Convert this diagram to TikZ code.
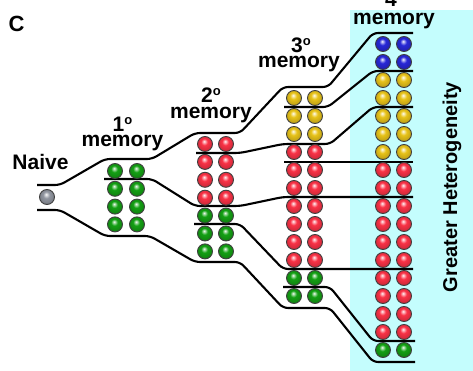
\documentclass[tikz,border=0pt]{standalone}
\usepackage{fontspec}
\setmainfont{Liberation Sans}
\definecolor{bgcyan}{RGB}{196,253,253}
\definecolor{bgreen}{RGB}{20,160,20}
\definecolor{bred}{RGB}{250,50,70}
\definecolor{byellow}{RGB}{232,195,25}
\definecolor{bblue}{RGB}{40,40,215}
\definecolor{bgray}{RGB}{145,150,160}
\makeatletter
\pgfdeclareradialshading[tikz@ball]{cellball}{\pgfpoint{-3bp}{9bp}}{%
  color(0bp)=(tikz@ball!5!white); color(4bp)=(tikz@ball!40!white);
  color(11bp)=(tikz@ball); color(24bp)=(tikz@ball!85!black);
  color(34bp)=(tikz@ball!65!black); color(50bp)=(black)}
\makeatother
\newcommand{\ordo}{\raisebox{7.5pt}{\fontsize{13}{13}\selectfont o}}
\begin{document}
\begin{tikzpicture}[x=1pt,y=-1pt,
  lbl/.style={font=\bfseries\fontsize{21}{21}\selectfont, anchor=base, inner sep=0pt},
  ball/.style={circle, draw=black!75, line width=0.9pt, minimum size=15pt, inner sep=0pt, ball color=#1, shading=cellball},
  sepline/.style={line width=2.1pt, rounded corners=5pt}]
\useasboundingbox (0,0) rectangle (473,371);
\fill[bgcyan] (350,10) rectangle (473,371);

% labels
\node[lbl, font=\bfseries\fontsize{22}{22}\selectfont] (lc) at (16.5,32) {C};
\node[lbl] (lnaive) at (40.5,170) {Naive};
\node[lbl] (l1a) at (122.5,132) {1\ordo};
\node[lbl] (l1b) at (122.5,147) {memory};
\node[lbl] (l2a) at (211,103) {2\ordo};
\node[lbl] (l2b) at (211,119) {memory};
\node[lbl] (l3a) at (301,53) {3\ordo};
\node[lbl] (l3b) at (299,68) {memory};
\node[lbl] (l4a) at (395,7) {4\ordo};
\node[lbl] (l4b) at (394,25) {memory};
\node[lbl, font=\bfseries\fontsize{20}{20}\selectfont, rotate=90] (lgh) at (457,187) {Greater Heterogeneity};

% lineage boundaries
\draw[sepline] (37,185) -- (60,185) -- (105,159) -- (152,159) -- (195,133) -- (240,133) -- (283,87) -- (328,87) -- (373,33) -- (413,33);
\draw[sepline] (37,210) -- (60,210) -- (105,236) -- (150,236) -- (195,262) -- (240,262) -- (283,308) -- (330,308) -- (373,362) -- (415,362);
\draw[sepline] (104,179) -- (152,179) -- (195,206) -- (240,206) -- (283,197) -- (413,197);
\draw[sepline] (196,153) -- (240,153) -- (283,144) -- (330,144) -- (373,107) -- (413,107);
\draw[sepline] (194,224) -- (240,224) -- (283,269) -- (413,269);
\draw[sepline] (284,107) -- (328,107) -- (373,71) -- (413,71);
\draw[sepline] (284,162) -- (413,162);
\draw[sepline] (283,287) -- (330,287) -- (373,341) -- (415,341);

% cells
\node[ball=bgray] (n0) at (47,197) {};
\foreach \c [count=\i from 0] in {bgreen,bgreen,bgreen,bgreen} {
  \node[ball=\c] (c1l\i) at (115,{171+17.8*\i}) {};
  \node[ball=\c] (c1r\i) at (137,{171+17.8*\i}) {};
}
\foreach \c [count=\i from 0] in {bred,bred,bred,bred,bgreen,bgreen,bgreen} {
  \node[ball=\c] (c2l\i) at (205,{144+17.9*\i}) {};
  \node[ball=\c] (c2r\i) at (226,{144+17.9*\i}) {};
}
\foreach \c [count=\i from 0] in {byellow,byellow,byellow,bred,bred,bred,bred,bred,bred,bred,bgreen,bgreen} {
  \node[ball=\c] (c3l\i) at (294,{98+18*\i}) {};
  \node[ball=\c] (c3r\i) at (315,{98+18*\i}) {};
}
\foreach \c [count=\i from 0] in {bblue,bblue,byellow,byellow,byellow,byellow,byellow,bred,bred,bred,bred,bred,bred,bred,bred,bred,bred,bgreen} {
  \node[ball=\c] (c4l\i) at (383,{44+18*\i}) {};
  \node[ball=\c] (c4r\i) at (404,{44+18*\i}) {};
}
\end{tikzpicture}
\end{document}
